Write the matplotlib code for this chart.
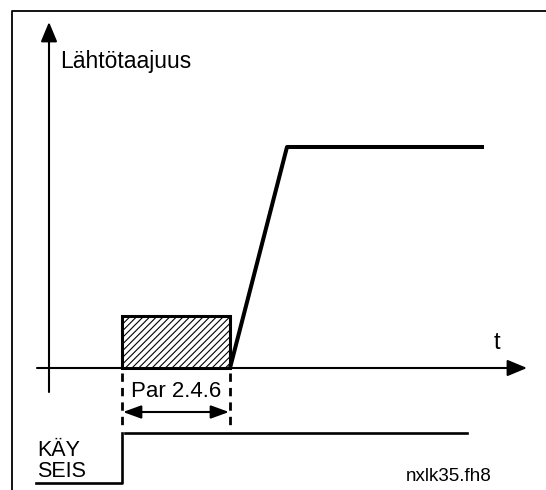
import matplotlib.pyplot as plt
from matplotlib.patches import Rectangle

plt.rcParams['font.family'] = ['Liberation Sans', 'DejaVu Sans']
plt.rcParams['hatch.linewidth'] = 0.8

# Diagram values (time units along t, frequency units upward)
delay_start = 73
delay_end = 181
delay_height = 52
freq_time = [181, 238, 435]
freq_value = [0, 221, 221]
run_time = [-13, 73, 73, 418]
run_level = [-115, -115, -65, -65]

labels = {"y": "Lähtötaajuus", "x": "t", "delay": "Par 2.4.6",
          "run": "KÄY", "stop": "SEIS", "file": "nxlk35.fh8"}

fig = plt.figure(figsize=(5.46, 4.90), dpi=100)
ax = fig.add_axes([0, 0, 1, 1])
ax.set_xlim(-49, 497)
ax.set_ylim(-122, 368)
ax.axis('off')

# outer frame (cropped at right and bottom)
ax.plot([-37, -37, 497], [-122, 357, 357], color='black', lw=1.3)

# axes with arrowheads
head = dict(arrowstyle='-|>,head_length=1.2,head_width=0.5', mutation_scale=10,
            color='black', lw=1.5, shrinkA=0, shrinkB=0)
ax.annotate('', xy=(0, 346), xytext=(0, -24), arrowprops=head)
ax.annotate('', xy=(478, 0), xytext=(-12, 0), arrowprops=head)

# start delay box
ax.add_patch(Rectangle((delay_start, 0), delay_end - delay_start, delay_height,
                       facecolor='white', edgecolor='black', lw=2.2,
                       hatch='/////', zorder=3))

# output frequency
ax.plot(freq_time, freq_value, color='black', lw=2.9, solid_capstyle='butt', zorder=4)

# dashed delay markers
for xd in (delay_start, delay_end):
    ax.plot([xd, xd], [-5, -62], color='black', lw=2.0, ls=(0, (3, 2.2)))

ax.annotate('', xy=(delay_start + 1, -44), xytext=(delay_end - 1, -44),
            arrowprops=dict(arrowstyle='<|-|>,head_length=1.1,head_width=0.4',
                            mutation_scale=10, color='black', lw=1.5,
                            shrinkA=0, shrinkB=0))

# run / stop signal
ax.plot(run_time[:3], run_level[:3], color='black', lw=1.9)
ax.plot([run_time[2] + 3, run_time[3]], run_level[2:], color='black', lw=1.9)

# texts
ax.text(11, 300, labels["y"], fontsize=16.5, va='baseline', ha='left')
ax.text(448, 19, labels["x"], fontsize=17, va='baseline', ha='center')
ax.text((delay_start + delay_end) / 2, -29, labels["delay"], fontsize=16,
        va='baseline', ha='center')
ax.text(-12, -88, labels["run"], fontsize=15.5, va='baseline', ha='left')
ax.text(-12, -109, labels["stop"], fontsize=15.5, va='baseline', ha='left')
ax.text(443, -113, labels["file"], fontsize=13.5, va='baseline', ha='right')

fig.savefig('out.png', dpi=100)
